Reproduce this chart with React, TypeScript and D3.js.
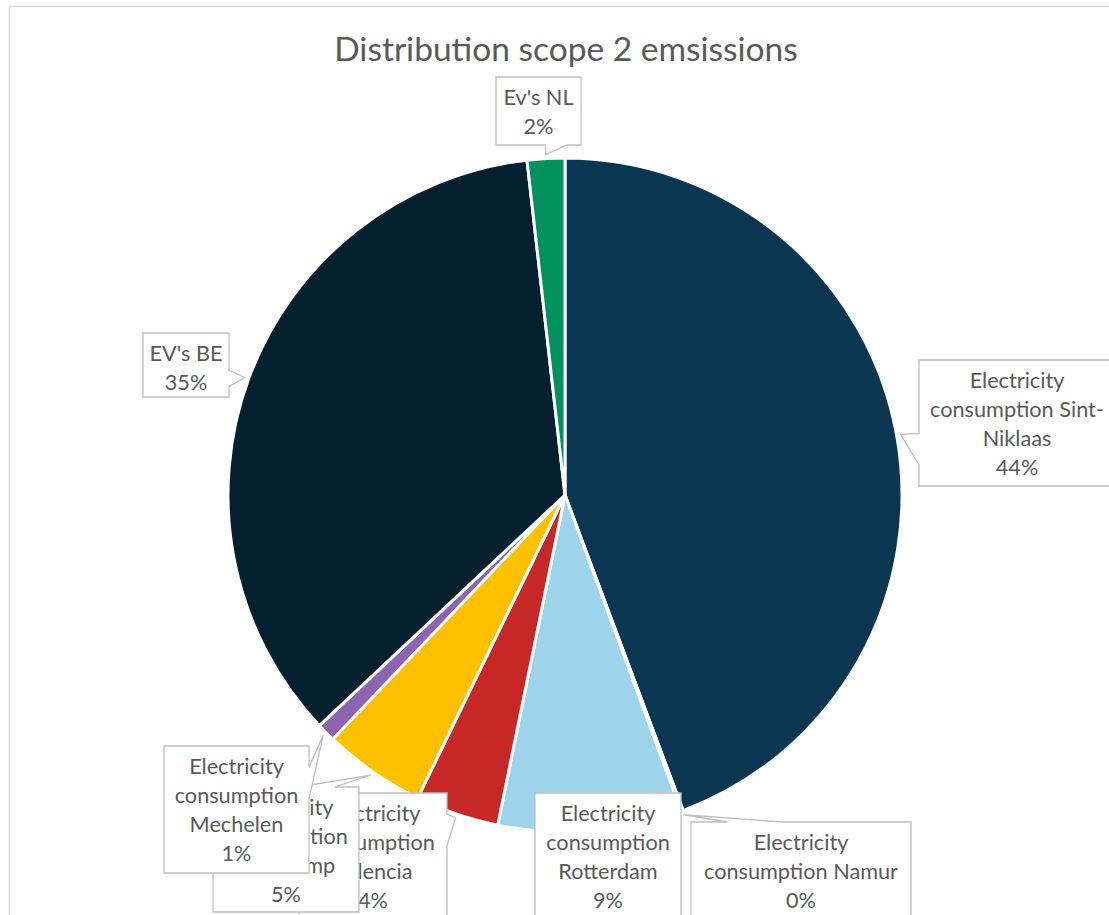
import React from "react";
import * as d3 from "d3";

// ---- Data ----
const title = "Distribution scope 2 emsissions";
const categories = [
  "Electricity consumption Sint-Niklaas",
  "Electricity consumption Namur",
  "Electricity consumption Rotterdam",
  "Electricity consumption Valencia",
  "Electricity consumption Oostkamp",
  "Electricity consumption Mechelen",
  "EV's BE",
  "Ev's NL",
];
const values = [44.3, 0.1, 8.8, 4.0, 4.9, 0.9, 35.2, 1.8];
const colors = ["#0A3651", "#ED7D31", "#9DD4EC", "#C62828", "#FFC000", "#8C64B0", "#04202F", "#00915E"];

// wrapped label text lines (as Excel wraps them)
const labelLines = [
  ["Electricity", "consumption Sint-", "Niklaas"],
  ["Electricity", "consumption Namur"],
  ["Electricity", "consumption", "Rotterdam"],
  ["Electricity", "consumption", "Valencia"],
  ["Electricity", "consumption", "Oostkamp"],
  ["Electricity", "consumption", "Mechelen"],
  ["EV's BE"],
  ["Ev's NL"],
];

// ---- Layout ----
const W = 1109;
const H = 915;
const CX = 565;
const CY = 495;
const R = 337;
// callout boxes [x, y, w, h]
const labelBoxes: [number, number, number, number][] = [
  [919, 360, 196, 126],
  [691, 822, 220, 98],
  [535, 793, 146, 126],
  [299, 793, 148, 126],
  [213, 787, 146, 125],
  [164, 746, 145, 127],
  [143, 333, 86, 64],
  [496, 77, 85, 68],
];

const FONT = "Lato, 'Open Sans', sans-serif";
const TEXT = "#595959";
const LINE_H = 29.3;

function calloutPath(box: [number, number, number, number], tx: number, ty: number) {
  const [x, y, w, h] = box;
  const inside = tx >= x && tx <= x + w && ty >= y && ty <= y + h;
  const TL: [number, number] = [x, y];
  const TR: [number, number] = [x + w, y];
  const BR: [number, number] = [x + w, y + h];
  const BL: [number, number] = [x, y + h];
  if (inside) {
    return "M" + [TL, TR, BR, BL].map((p) => p.join(",")).join("L") + "Z";
  }
  const cx = x + w / 2;
  const cy = y + h / 2;
  const dx = (tx - cx) / w;
  const dy = (ty - cy) / h;
  const pts: [number, number][] = [];
  const tip: [number, number] = [tx, ty];
  if (Math.abs(dy) > Math.abs(dx)) {
    const f = dx < 0 ? [2 / 12, 5 / 12] : [7 / 12, 10 / 12];
    const b1 = x + w * f[0];
    const b2 = x + w * f[1];
    if (dy < 0) {
      pts.push(TL, [b1, y], tip, [b2, y], TR, BR, BL);
    } else {
      pts.push(TL, TR, BR, [b2, y + h], tip, [b1, y + h], BL);
    }
  } else {
    const f = dy < 0 ? [2 / 12, 5 / 12] : [7 / 12, 10 / 12];
    const b1 = y + h * f[0];
    const b2 = y + h * f[1];
    if (dx > 0) {
      pts.push(TL, TR, [x + w, b1], tip, [x + w, b2], BR, BL);
    } else {
      pts.push(TL, TR, BR, BL, [x, b2], tip, [x, b1]);
    }
  }
  return "M" + pts.map((p) => p.join(",")).join("L") + "Z";
}

export default function App() {
  React.useEffect(() => {
    document.body.style.margin = "0";
  }, []);

  const total = d3.sum(values);
  const pie = d3.pie<number>().sort(null).value((d) => d);
  const arcs = pie(values);
  const arc = d3.arc<d3.PieArcDatum<number>>().innerRadius(0).outerRadius(R);
  const pct = d3.format(".0%");

  return (
    <svg
      width={W}
      height={H}
      style={{ position: "absolute", left: 0, top: 0, background: "#fff" }}
    >
      <rect x={9.5} y={6.5} width={1200} height={1000} fill="#fff" stroke="#D9D9D9" strokeWidth={1.5} />
      <text x={566} y={61} textAnchor="middle" fontFamily={FONT} fontSize={33.5} fill={TEXT}>
        {title}
      </text>
      <g transform={`translate(${CX},${CY})`}>
        {arcs.map((a, i) => (
          <path key={categories[i]} d={arc(a) || ""} fill={colors[i]} stroke="#fff" strokeWidth={3} strokeLinejoin="round" />
        ))}
      </g>
      {arcs.map((a, i) => {
        const mid = (a.startAngle + a.endAngle) / 2;
        const tr = R + 4;
        const tx = CX + tr * Math.sin(mid);
        const ty = CY - tr * Math.cos(mid);
        const box = labelBoxes[i];
        const lines = [...labelLines[i], pct(values[i] / total)];
        const cx = box[0] + box[2] / 2;
        return (
          <g key={"lbl" + i}>
            <path d={calloutPath(box, tx, ty)} fill="#fff" stroke="#BFBFBF" strokeWidth={1.3} />
            <text textAnchor="middle" fontFamily={FONT} fontSize={21.7} fill={TEXT}>
              {lines.map((l, j) => (
                <tspan key={j} x={cx} y={box[1] + 27.5 + j * LINE_H}>
                  {l}
                </tspan>
              ))}
            </text>
          </g>
        );
      })}
    </svg>
  );
}
